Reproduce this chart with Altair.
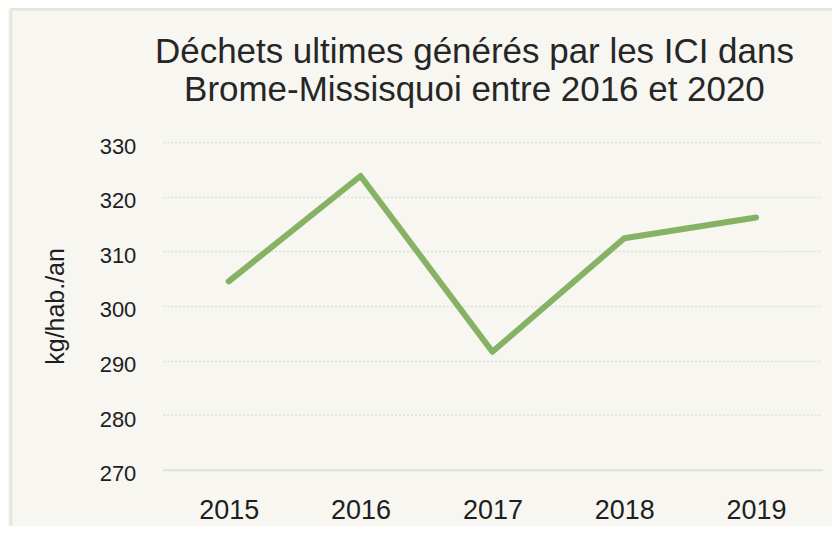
import altair as alt
import pandas as pd

years = ["2015", "2016", "2017", "2018", "2019"]
values = [304.5, 323.8, 291.6, 312.4, 316.2]
y_ticks = [270, 280, 290, 300, 310, 320, 330]
title_lines = ["Déchets ultimes générés par les ICI dans",
               "Brome-Missisquoi entre 2016 et 2020"]
y_title = "kg/hab./an"

df = pd.DataFrame({"annee": years, "valeur": values})
title_df = pd.DataFrame({"titre": ["\n".join(title_lines)]})

FONT = "Liberation Sans"
BG = "#f7f6f1"
BORDER = "#dfe6da"

line = alt.Chart(df).mark_line(
    color="#86b264", strokeWidth=6, strokeCap="round", strokeJoin="round"
).encode(
    x=alt.X(
        "annee:N", sort=years,
        scale=alt.Scale(type="point", padding=0.5),
        axis=alt.Axis(
            title=None, labelAngle=0, labelFontSize=27, labelFont=FONT,
            labelColor="#1e1e1e", labelPadding=28, ticks=False, tickSize=0,
            domain=True, domainColor="#dde6d6", domainWidth=2, grid=False,
        ),
    ),
    y=alt.Y(
        "valeur:Q",
        scale=alt.Scale(domain=[270, 330], nice=False, zero=False),
        axis=alt.Axis(
            values=y_ticks, title=y_title, titleFont=FONT, titleFontSize=25,
            titleFontWeight="normal", titleColor="#1e1e1e",
            titleX=-99, titleY=164, titleAlign="center", titleBaseline="alphabetic",
            titleAngle=270,
            labelFont=FONT, labelFontSize=22, labelColor="#1e1e1e",
            labelPadding=27, labelOffset=4, ticks=False, tickSize=0, domain=False,
            grid=True, gridColor="#dde3d6", gridWidth=1.5, gridDash=[2, 2],
        ),
    ),
)

# chart title as a text mark (kept above the plot area)
title = alt.Chart(title_df).mark_text(
    font=FONT, fontSize=35, color="#262626", lineBreak="\n", lineHeight=38,
    align="center", baseline="alphabetic",
).encode(
    text="titre:N", x=alt.value(312), y=alt.value(-79)
)

# decorative chart-area border (top and left edges)
border_left = alt.Chart(title_df).mark_rule(color=BORDER, strokeWidth=2.5).encode(
    x=alt.value(-152), y=alt.value(-133), y2=alt.value(400)
)
border_top = alt.Chart(title_df).mark_rule(color=BORDER, strokeWidth=2.5).encode(
    x=alt.value(-152), x2=alt.value(680), y=alt.value(-133)
)

chart = alt.layer(border_left, border_top, title, line).properties(
    width=660,
    height=328,
    autosize=alt.AutoSizeParams(type="none"),
    padding={"left": 155, "top": 134, "right": 10, "bottom": 56},
    background=BG,
).configure_view(stroke=None)

chart.save("out.html", embed_options={"renderer": "svg", "actions": False})
